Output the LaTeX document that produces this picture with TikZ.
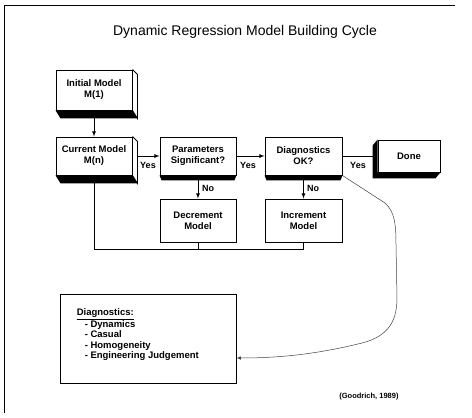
\documentclass[tikz,border=0pt]{standalone}
\usepackage{fontspec}
\setmainfont{Liberation Sans}
\usetikzlibrary{arrows}

\tikzset{
    blk/.style={draw, line width=0.9pt, fill=white, inner sep=0pt, align=center,
        font=\fontsize{9.5}{11}\selectfont\bfseries},
    lbl/.style={font=\fontsize{9}{10}\selectfont\bfseries},
    arr/.style={-latex, line width=0.8pt},
}

\begin{document}
\begin{tikzpicture}[x=1pt, y=-1pt]
    \useasboundingbox (0,0) rectangle (472,418);
    \draw[line width=0.9pt] (4,413) -- (4,5) -- (455,5); % frame, only two sides show
    \node[font=\fontsize{14}{16}\selectfont] (title) at (245,32) {Dynamic Regression Model Building Cycle};

    % blocks of the cycle
    \node[blk, minimum width=76pt, minimum height=40pt] (init) at (94,90) {Initial Model\\M(1)};
    \node[blk, minimum width=76pt, minimum height=38pt] (cur) at (94,156) {Current Model\\M(n)};
    \node[blk, minimum width=76pt, minimum height=38pt] (par) at (198,156) {Parameters\\Significant?};
    \node[blk, minimum width=77pt, minimum height=38pt] (diag) at (303.5,156) {Diagnostics\\OK?};
    \node[blk, minimum width=62pt, minimum height=32pt] (done) at (409,156) {Done};
    \node[blk, minimum width=76pt, minimum height=43pt] (dec) at (198,220.5) {Decrement\\Model};
    \node[blk, minimum width=77pt, minimum height=43pt] (inc) at (303.5,220.5) {Increment\\Model};

    % 3d sides
    \foreach \n in {init,cur}{
        \fill (\n.south west) -- (\n.south east) -- ([shift={(5,8)}]\n.south east) -- ([shift={(5,8)}]\n.south west) -- cycle;
        \draw[line width=0.9pt] (\n.north east) -- ([shift={(5,5)}]\n.north east) -- ([shift={(5,8)}]\n.south east) -- (\n.south east);
    }
    \foreach \n in {par,diag}
        \fill (\n.south west) -- (\n.south east) -- ([shift={(-2,5)}]\n.south east) -- ([shift={(2,5)}]\n.south west) -- cycle;
    \fill (done.north west) -- ([shift={(-5,6)}]done.north west) -- ([shift={(-5,6)}]done.south west)
        -- ([shift={(-5,6)}]done.south east) -- (done.south east) -- (done.south west) -- cycle;
    \foreach \n in {dec,inc}
        \draw[line width=1.6pt] (\n.north east) -- (\n.south east) -- (\n.south west);

    % connectors
    \draw[arr] ([yshift=-8pt]init.south) -- (cur);
    \draw[arr] ([xshift=5pt]cur.east) -- (par.west);
    \draw[arr] (par) -- (diag);
    \draw[line width=0.8pt] (diag) -- ([xshift=-5pt]done.west);
    \draw[arr] ([yshift=-5pt]par.south) -- (dec);
    \draw[arr] ([yshift=-5pt]diag.south) -- (inc);
    \draw[line width=0.8pt] ([yshift=-8pt]cur.south) -- ++(0,66) -| (inc.south);
    \draw[line width=0.8pt] (dec.south) -- ++(0,7);

    \node[lbl] (yes1) at (148,165) {Yes};
    \node[lbl] (yes2) at (248,165) {Yes};
    \node[lbl] (yes3) at (358,165) {Yes};
    \node[lbl] (no1) at (208,188) {No};
    \node[lbl] (no2) at (313,188) {No};

    % diagnostics list
    \node[draw, line width=0.9pt, minimum width=176pt, minimum height=89pt, inner sep=0pt] (list) at (148,338.5) {};
    \node[anchor=north west, align=left, inner sep=0pt, font=\fontsize{9.5}{10.4}\selectfont\bfseries]
        (listtxt) at ([shift={(17,15)}]list.north west)
        {\underline{Diagnostics:}\\
         \hspace*{8pt}- Dynamics\\
         \hspace*{8pt}- Casual\\
         \hspace*{8pt}- Homogeneity\\
         \hspace*{8pt}- Engineering Judgement};
    \draw[-latex, line width=0.5pt, black!75] (diag.south east) -- (385,203)
        .. controls (395,212) and (396,225) .. (396,245) -- (397,298)
        .. controls (397,325) and (385,338) .. (358,344)
        .. controls (320,353) and (285,358) .. ([yshift=-19.5pt]list.east);

    \node[font=\fontsize{7.5}{9}\selectfont\bfseries] (cite) at (369,397) {(Goodrich, 1989)};
\end{tikzpicture}
\end{document}
